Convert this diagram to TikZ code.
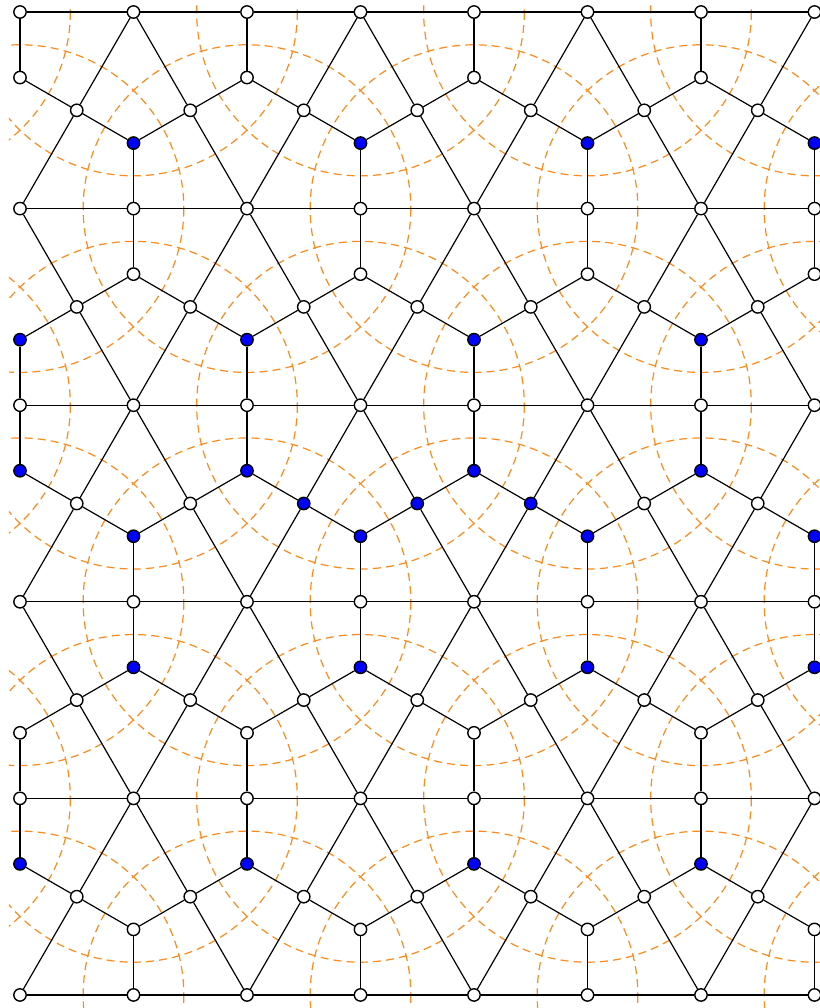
\documentclass[tikz,border=0pt]{standalone}
\definecolor{arcorange}{RGB}{255,137,26}
\tikzset{
  vtx/.style={circle, draw=black, line width=0.35pt, fill=white, inner sep=0pt, minimum size=3.1pt},
  bvtx/.style={vtx, fill=blue},
  link/.style={draw=black, line width=0.3pt},
  guide/.style={draw=arcorange, line width=0.3pt, dash pattern=on 2pt off 1.3pt}
}
\begin{document}
\begin{tikzpicture}[x=1cm,y=-1cm]
\def\hh{1.7320508}
\useasboundingbox (-0.17621,-0.10573) rectangle (7.04846,8.77533);
% guide circles centred on the lattice corners
\begin{scope}
\clip (-0.097,-0.062) rectangle (7.3,9);
\foreach \k in {0,...,5}{
  \foreach \i in {-2,...,9}{
    \pgfmathtruncatemacro\pp{mod(\i+\k+20,2)}
    \ifnum\pp=1
      \draw[guide] (\i,\k*\hh) circle[radius=1.4434];
    \fi
  }
}
\end{scope}
% nodes on the horizontal lines
\foreach \k in {0,...,5}{
  \foreach \i in {0,...,7}{
    \node[vtx] (r-\k-\i) at (\i,\k*\hh) {};
  }
}
% midpoints of the slanted edges
\foreach \k in {0,...,4}{
  \foreach \j in {0,...,6}{
    \pgfmathtruncatemacro\isb{((\k==2)&&(\j>1)&&(\j<5))}
    \ifnum\isb=1
      \node[bvtx] (m-\k-\j) at (\j+0.5,{(\k+0.5)*\hh}) {};
    \else
      \node[vtx] (m-\k-\j) at (\j+0.5,{(\k+0.5)*\hh}) {};
    \fi
  }
}
% centroids
\foreach \k in {0,...,4}{
  \foreach \i in {0,...,7}{
    \pgfmathtruncatemacro\pp{mod(\i+\k,2)}
    \pgfmathsetmacro\cy{(\k+1/3+\pp/3)*\hh}
    \pgfmathtruncatemacro\isb{((\k<2)&&(\pp==1))||(\k==2)||((\k>2)&&(\pp==0))}
    \ifnum\isb=1
      \node[bvtx] (c-\k-\i) at (\i,\cy) {};
    \else
      \node[vtx] (c-\k-\i) at (\i,\cy) {};
    \fi
  }
}
% horizontal edges
\foreach \k in {0,...,5}{
  \foreach \i in {0,...,6}{
    \pgfmathtruncatemacro\n{\i+1}
    \draw[link] (r-\k-\i) -- (r-\k-\n);
  }
}
% slanted edges
\foreach \k in {0,...,4}{
  \foreach \j in {0,...,6}{
    \pgfmathtruncatemacro\kn{\k+1}
    \pgfmathtruncatemacro\jn{\j+1}
    \pgfmathtruncatemacro\pp{mod(\j+\k,2)}
    \ifnum\pp=1
      \draw[link] (r-\k-\j) -- (m-\k-\j) -- (r-\kn-\jn);
    \else
      \draw[link] (r-\k-\jn) -- (m-\k-\j) -- (r-\kn-\j);
    \fi
  }
}
% centroid spokes
\foreach \k in {0,...,4}{
  \foreach \i in {0,...,7}{
    \pgfmathtruncatemacro\kn{\k+1}
    \pgfmathtruncatemacro\im{\i-1}
    \pgfmathtruncatemacro\pp{mod(\i+\k,2)}
    \ifnum\pp=0
      \draw[link] (c-\k-\i) -- (r-\k-\i);
    \else
      \draw[link] (c-\k-\i) -- (r-\kn-\i);
    \fi
    \ifnum\i>0
      \draw[link] (c-\k-\i) -- (m-\k-\im);
    \fi
    \ifnum\i<7
      \draw[link] (c-\k-\i) -- (m-\k-\i);
    \fi
  }
}
\end{tikzpicture}
\end{document}
